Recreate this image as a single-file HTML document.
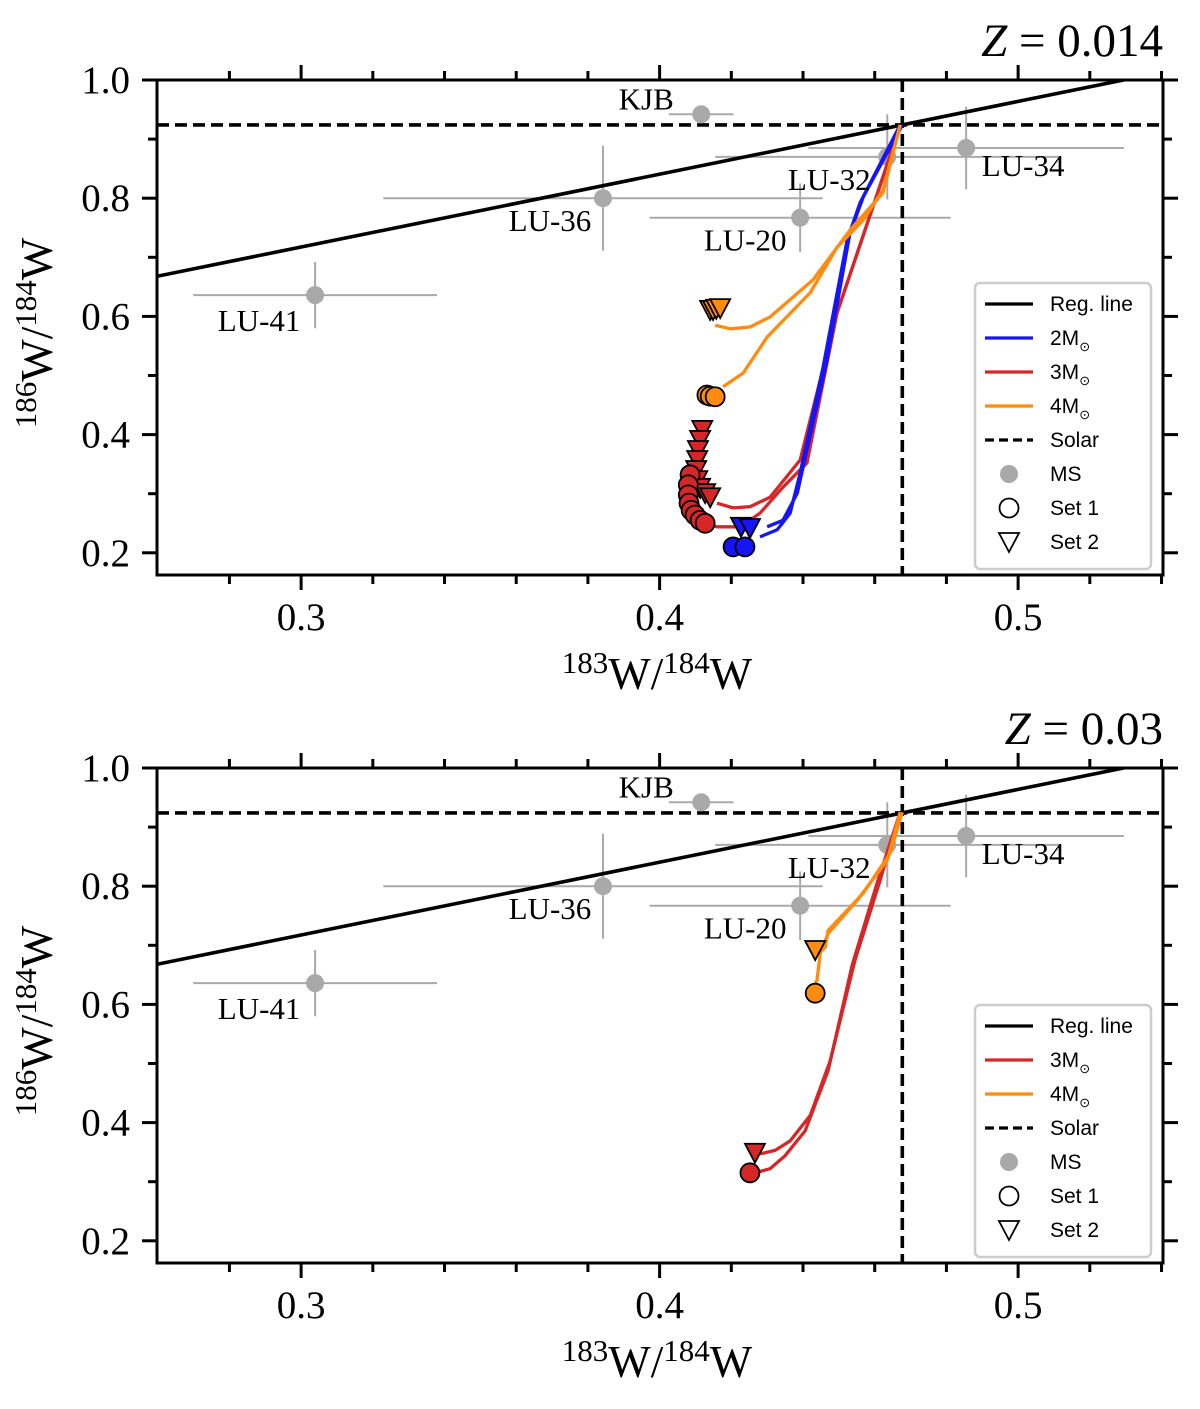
<!DOCTYPE html>
<html><head><meta charset="utf-8"><style>
body{margin:0;background:#fff}
svg text{font-family:"Liberation Serif",serif}
</style></head><body>
<svg id="c" width="1200" height="1404" viewBox="0 0 1200 1404" xmlns="http://www.w3.org/2000/svg"></svg>
<script>
// ---- data ----
const xTicks=[0.3,0.4,0.5];
const xTickLabels=["0.3","0.4","0.5"];
const yTicks=[0.2,0.4,0.6,0.8,1.0];
const yTickLabels=["0.2","0.4","0.6","0.8","1.0"];
const solarX=0.4677, solarY=0.924;
const regSlope=1.232;
const msNames=["KJB","LU-34","LU-32","LU-36","LU-20","LU-41"];
const msX=[0.4116,0.4855,0.4635,0.3842,0.4392,0.3039];
const msY=[0.942,0.885,0.870,0.800,0.767,0.636];
const msXerr=[0.009,0.044,0.048,0.0613,0.042,0.034];
const msYerr=[0,0.07,0.072,0.089,0.058,0.056];
// top panel tracks (Z=0.014)
const t_orange2X=[0.4671,0.4623,0.4531,0.4428,0.4308,0.4252,0.4197,0.4155];
const t_orange2Y=[0.924,0.809,0.746,0.662,0.599,0.582,0.579,0.585];
const t_orange1X=[0.4671,0.4623,0.4568,0.4495,0.4420,0.4300,0.4233,0.4177];
const t_orange1Y=[0.924,0.814,0.763,0.717,0.640,0.565,0.504,0.481];
const t_blue1X=[0.4671,0.4559,0.4523,0.4456,0.4392,0.4364,0.4328,0.4280];
const t_blue1Y=[0.924,0.792,0.729,0.514,0.335,0.267,0.239,0.227];
const t_blue2X=[0.4677,0.4568,0.4531,0.4467,0.4384,0.4344,0.4300];
const t_blue2Y=[0.924,0.802,0.741,0.526,0.301,0.255,0.244];
const t_red1X=[0.4671,0.4623,0.4495,0.4392,0.4308,0.4252,0.4205,0.4160];
const t_red1Y=[0.924,0.836,0.606,0.357,0.294,0.278,0.276,0.284];
const t_red2X=[0.4671,0.4623,0.4495,0.4411,0.4344,0.4280,0.4225,0.4160,0.4132];
const t_red2Y=[0.924,0.836,0.606,0.352,0.311,0.267,0.244,0.244,0.247];
const t_redCircX=[0.4085,0.4080,0.4080,0.4082,0.4088,0.4099,0.4113,0.4127];
const t_redCircY=[0.332,0.315,0.298,0.284,0.272,0.264,0.255,0.250];
const t_redTriX=[0.4119,0.4113,0.4107,0.4105,0.4102,0.4105,0.4113,0.4127,0.4141];
const t_redTriY=[0.408,0.391,0.374,0.357,0.340,0.323,0.310,0.301,0.294];
const t_blueCircX=[0.4205,0.4238];
const t_blueCircY=[0.210,0.210];
const t_blueTriX=[0.4227,0.4252];
const t_blueTriY=[0.244,0.242];
const t_orCircX=[0.4132,0.4141,0.4155];
const t_orCircY=[0.467,0.465,0.464];
const t_orTriX=[0.4141,0.4149,0.4158,0.4169];
const t_orTriY=[0.611,0.611,0.613,0.614];
// bottom panel tracks (Z=0.03)
const b_orange1X=[0.4677,0.4643,0.4568,0.4470,0.4462,0.4434];
const b_orange1Y=[0.925,0.856,0.788,0.725,0.697,0.680];
const b_orange2X=[0.4671,0.4635,0.4551,0.4470,0.4448,0.4439,0.4434];
const b_orange2Y=[0.925,0.844,0.776,0.720,0.686,0.641,0.636];
const b_red1X=[0.4671,0.4615,0.4545,0.4476,0.4420,0.4364,0.4322,0.4280];
const b_red1Y=[0.925,0.810,0.675,0.505,0.412,0.369,0.353,0.347];
const b_red2X=[0.4671,0.4609,0.4537,0.4470,0.4406,0.4350,0.4308,0.4266];
const b_red2Y=[0.925,0.810,0.666,0.488,0.386,0.344,0.322,0.315];
const b_orCircX=[0.4434], b_orCircY=[0.619];
const b_orTriX=[0.4434], b_orTriY=[0.692];
const b_redCircX=[0.4252], b_redCircY=[0.315];
const b_redTriX=[0.4266], b_redTriY=[0.349];

const NS="http://www.w3.org/2000/svg";
const svg=document.getElementById('c');
const BLUE='#1515f5',RED='#d62728',ORANGE='#ff8c10',GRAY='#a9a9a9';
function el(tag,attrs,parent){const e=document.createElementNS(NS,tag);for(const k in attrs)e.setAttribute(k,attrs[k]);(parent||svg).appendChild(e);return e;}

function panel(top,zlabel,tracks,markers,legendItems){
  const L=157,R=1163,T=top,B=top+495;
  const x=v=>L+(v-0.2598)*3585;
  const y=v=>T+(1.0-v)*591;
  const g=el('g',{});
  
  
  const cp='clip'+top;
  const d=el('defs',{},g);const c=el('clipPath',{id:cp},d);el('rect',{x:L,y:T,width:R-L,height:B-T},c);
  const pg=el('g',{'clip-path':'url(#'+cp+')'},g);
  for(let i=0;i<msX.length;i++){
    const e1=el('line',{x1:x(msX[i]-msXerr[i]),x2:x(msX[i]+msXerr[i]),y1:y(msY[i]),y2:y(msY[i]),stroke:GRAY,'stroke-width':2},pg);
    
    
    if(msYerr[i]>0){const e2=el('line',{x1:x(msX[i]),x2:x(msX[i]),y1:y(msY[i]-msYerr[i]),y2:y(msY[i]+msYerr[i]),stroke:GRAY,'stroke-width':2},pg);
    
    }
  }
  const s1=el('line',{x1:x(solarX),x2:x(solarX),y1:T,y2:B,stroke:'#000','stroke-width':3.6,'stroke-dasharray':'12,6'},pg);
  
  const s2=el('line',{x1:L,x2:R,y1:y(solarY),y2:y(solarY),stroke:'#000','stroke-width':3.6,'stroke-dasharray':'12,6'},pg);
  
  const rl=el('line',{x1:x(0.2598),y1:y(solarY+regSlope*(0.2598-solarX)),x2:x(0.54),y2:y(solarY+regSlope*(0.54-solarX)),stroke:'#000','stroke-width':3.6},pg);
  
  const lblOff=[[-55,-5],[57,28],[-58,33],[-53,33],[-55,33],[-56,36]];
  for(let i=0;i<msX.length;i++){
    const p=el('circle',{cx:x(msX[i]),cy:y(msY[i]),r:9,fill:GRAY},pg);
    
    const t=el('text',{x:x(msX[i])+lblOff[i][0],y:y(msY[i])+lblOff[i][1],'font-size':31,'text-anchor':'middle'},g);
    t.textContent=msNames[i];
    
  }
  tracks.forEach(tr=>{
    const pts=tr.xs.map((v,i)=>x(v)+','+y(tr.ys[i])).join(' ');
    const pl=el('polyline',{points:pts,fill:'none',stroke:tr.color,'stroke-width':3.3,'stroke-linejoin':'round'},pg);
    
  });
  markers.forEach(m=>{
    m.xs.forEach((v,i)=>{
      const cx=x(v),cy=y(m.ys[i]);let e;
      if(m.shape==='o')e=el('circle',{cx:cx,cy:cy,r:9.5,fill:m.color,stroke:'#000','stroke-width':1.8},pg);
      else e=el('polygon',{points:`${cx-10},${cy-9} ${cx+10},${cy-9} ${cx},${cy+10}`,fill:m.color,stroke:'#000','stroke-width':1.8},pg);
      
    });
  });
  const fr=el('rect',{x:L,y:T,width:R-L,height:B-T,fill:'none',stroke:'#000','stroke-width':3},g);
  
  for(let v=0.28;v<=0.541;v+=0.02){
    const vv=Math.round(v*100)/100;const maj=Math.abs(vv*10-Math.round(vv*10))<1e-6;
    const len=maj?15:9;const px=x(vv);
    el('line',{x1:px,x2:px,y1:B,y2:B+len,stroke:'#000','stroke-width':3},g);
    el('line',{x1:px,x2:px,y1:T,y2:T-len,stroke:'#000','stroke-width':3},g);
  }
  xTicks.forEach((v,i)=>{const t=el('text',{x:x(v),y:B+55,'font-size':39,'text-anchor':'middle'},g);t.textContent=xTickLabels[i];
    });
  for(let v=0.2;v<=1.001;v+=0.1){
    const vv=Math.round(v*10)/10;const maj=Math.round(vv*10)%2===0;const len=maj?15:9;const py=y(vv);
    el('line',{x1:L,x2:L-len,y1:py,y2:py,stroke:'#000','stroke-width':3},g);
    el('line',{x1:R,x2:R+len,y1:py,y2:py,stroke:'#000','stroke-width':3},g);
  }
  yTicks.forEach((v,i)=>{const t=el('text',{x:L-27,y:y(v)+13,'font-size':39,'text-anchor':'end'},g);t.textContent=yTickLabels[i];
    });
  const xt=el('text',{x:657,y:B+114,'font-size':45,'text-anchor':'middle'},g);
  xt.innerHTML='<tspan font-size="31" dy="-16">183</tspan><tspan dy="16">W/</tspan><tspan font-size="31" dy="-16">184</tspan><tspan dy="16">W</tspan>';
  
  const yt=el('text',{x:0,y:0,'font-size':45,'text-anchor':'middle',transform:`translate(52,${T+253}) rotate(-90)`},g);
  yt.innerHTML='<tspan font-size="31" dy="-16">186</tspan><tspan dy="16">W/</tspan><tspan font-size="31" dy="-16">184</tspan><tspan dy="16">W</tspan>';
  
  const zt=el('text',{x:1163,y:T-24,'font-size':47,'text-anchor':'end'},g);
  zt.innerHTML='<tspan font-style="italic">Z</tspan> = '+zlabel;
  
  const lh=34,ly0=T+203+(8-legendItems.length)*lh;
  const lg=el('g',{},g);
  el('rect',{x:975,y:ly0,width:176,height:legendItems.length*lh+14,rx:5,fill:'#fff',stroke:'#ccc','stroke-width':2.5},lg);
  legendItems.forEach((it,i)=>{
    const cy=ly0+21+i*lh;
    if(it.t==='line')el('line',{x1:985,x2:1033,y1:cy,y2:cy,stroke:it.c,'stroke-width':3.3,'stroke-dasharray':it.dash||''},lg);
    else if(it.t==='ms')el('circle',{cx:1009,cy:cy,r:9,fill:GRAY},lg);
    else if(it.t==='o')el('circle',{cx:1009,cy:cy,r:9.5,fill:'#fff',stroke:'#000','stroke-width':1.8},lg);
    else el('polygon',{points:`999,${cy-9} 1019,${cy-9} 1009,${cy+10}`,fill:'#fff',stroke:'#000','stroke-width':1.8},lg);
    const t=el('text',{x:1050,y:cy+7,'font-size':21,style:'font-family:"Liberation Sans",sans-serif'},lg);
    t.innerHTML=it.label;
    
  });
}
const sun='M<tspan font-size="13" dy="6">⊙</tspan>';
panel(80,'0.014',[
  {xs:t_red1X,ys:t_red1Y,color:RED,name:'track-3msun-set2'},
  {xs:t_red2X,ys:t_red2Y,color:RED,name:'track-3msun-set1'},
  {xs:t_blue1X,ys:t_blue1Y,color:BLUE,name:'track-2msun-set1'},
  {xs:t_blue2X,ys:t_blue2Y,color:BLUE,name:'track-2msun-set2'},
  {xs:t_orange2X,ys:t_orange2Y,color:ORANGE,name:'track-4msun-set2'},
  {xs:t_orange1X,ys:t_orange1Y,color:ORANGE,name:'track-4msun-set1'}
],[
  {xs:t_redTriX,ys:t_redTriY,color:RED,shape:'v',name:'red-set2-marker'},
  {xs:t_redCircX,ys:t_redCircY,color:RED,shape:'o',name:'red-set1-marker'},
  {xs:t_blueTriX,ys:t_blueTriY,color:BLUE,shape:'v',name:'blue-set2-marker'},
  {xs:t_blueCircX,ys:t_blueCircY,color:BLUE,shape:'o',name:'blue-set1-marker'},
  {xs:t_orTriX,ys:t_orTriY,color:ORANGE,shape:'v',name:'orange-set2-marker'},
  {xs:t_orCircX,ys:t_orCircY,color:ORANGE,shape:'o',name:'orange-set1-marker'}
],[
  {t:'line',c:'#000',label:'Reg. line'},{t:'line',c:BLUE,label:'2'+sun},{t:'line',c:RED,label:'3'+sun},
  {t:'line',c:ORANGE,label:'4'+sun},{t:'line',c:'#000',dash:'9,5',label:'Solar'},{t:'ms',label:'MS'},
  {t:'o',label:'Set 1'},{t:'v',label:'Set 2'}
]);
panel(768,'0.03',[
  {xs:b_red1X,ys:b_red1Y,color:RED,name:'track-3msun-set2'},
  {xs:b_red2X,ys:b_red2Y,color:RED,name:'track-3msun-set1'},
  {xs:b_orange1X,ys:b_orange1Y,color:ORANGE,name:'track-4msun-set2'},
  {xs:b_orange2X,ys:b_orange2Y,color:ORANGE,name:'track-4msun-set1'}
],[
  {xs:b_redTriX,ys:b_redTriY,color:RED,shape:'v',name:'red-set2-marker'},
  {xs:b_redCircX,ys:b_redCircY,color:RED,shape:'o',name:'red-set1-marker'},
  {xs:b_orTriX,ys:b_orTriY,color:ORANGE,shape:'v',name:'orange-set2-marker'},
  {xs:b_orCircX,ys:b_orCircY,color:ORANGE,shape:'o',name:'orange-set1-marker'}
],[
  {t:'line',c:'#000',label:'Reg. line'},{t:'line',c:RED,label:'3'+sun},
  {t:'line',c:ORANGE,label:'4'+sun},{t:'line',c:'#000',dash:'9,5',label:'Solar'},{t:'ms',label:'MS'},
  {t:'o',label:'Set 1'},{t:'v',label:'Set 2'}
]);
</script>
</body></html>
